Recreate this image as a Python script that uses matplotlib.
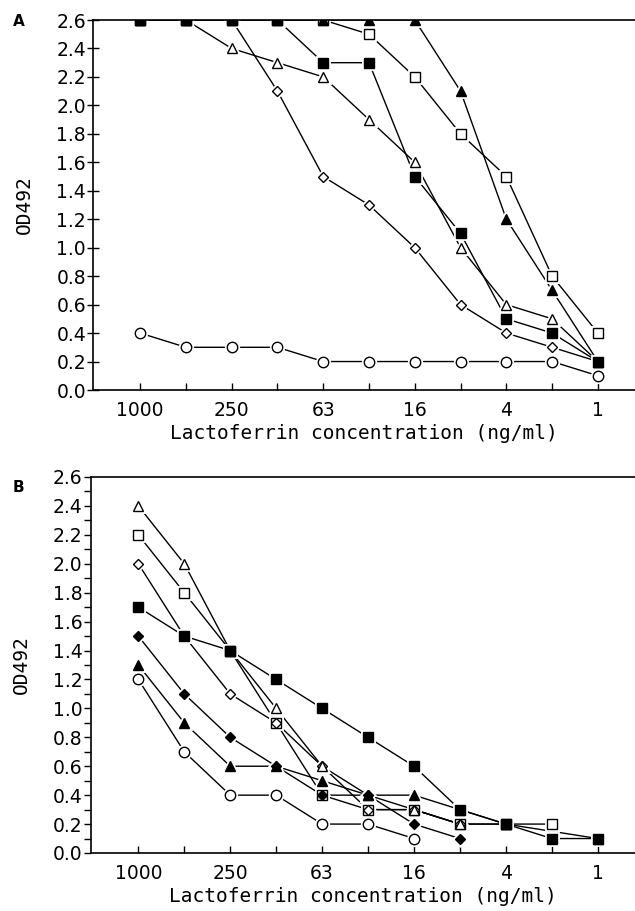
import numpy as np
import matplotlib
matplotlib.use('Agg')
import matplotlib.pyplot as plt
from matplotlib.patches import Rectangle

# lactoferrin dilutions (ng/ml), one position per twofold step
conc = ['1000', '500', '250', '125', '63', '31', '16', '8', '4', '2', '1']
shown = ['1000', '', '250', '', '63', '', '16', '', '4', '', '1']

nan = np.nan

# panel A
a_filled_sq = [2.6, 2.6, 2.6, 2.6, 2.3, 2.3, 1.5, 1.1, 0.5, 0.4, 0.2]
a_open_sq = [2.6, 2.6, 2.6, 2.6, 2.6, 2.5, 2.2, 1.8, 1.5, 0.8, 0.4]
a_filled_tri = [2.6, 2.6, 2.6, 2.6, 2.6, 2.6, 2.6, 2.1, 1.2, 0.7, 0.2]
a_open_tri = [2.6, 2.6, 2.4, 2.3, 2.2, 1.9, 1.6, 1.0, 0.6, 0.5, 0.2]
a_open_dia = [2.6, 2.6, 2.6, 2.1, 1.5, 1.3, 1.0, 0.6, 0.4, 0.3, 0.2]
a_circle = [0.4, 0.3, 0.3, 0.3, 0.2, 0.2, 0.2, 0.2, 0.2, 0.2, 0.1]

# panel B
b_filled_sq = [1.7, 1.5, 1.4, 1.2, 1.0, 0.8, 0.6, 0.3, 0.2, 0.1, 0.1]
b_open_sq = [2.2, 1.8, 1.4, 0.9, 0.4, 0.3, 0.3, 0.2, 0.2, 0.2, nan]
b_open_tri = [2.4, 2.0, 1.4, 1.0, 0.6, 0.4, 0.3, 0.2, 0.2, nan, nan]
b_open_dia = [2.0, 1.5, 1.1, 0.9, 0.6, 0.3, 0.3, 0.2, nan, nan, nan]
b_filled_tri = [1.3, 0.9, 0.6, 0.6, 0.5, 0.4, 0.4, 0.3, 0.2, nan, 0.1]
b_filled_dia = [1.5, 1.1, 0.8, 0.6, 0.4, 0.4, 0.2, 0.1, nan, nan, nan]
b_circle = [1.2, 0.7, 0.4, 0.4, 0.2, 0.2, 0.1, nan, nan, nan, nan]

MONO = 'DejaVu Sans Mono'
x = np.arange(len(conc))


def _series(ax, y, marker, filled, ms=7.5):
    y = np.asarray(y, dtype=float)
    ok = ~np.isnan(y)
    xs, ys = x[ok], y[ok]
    # line, then a white halo so the line stops short of the symbol
    ax.plot(xs, ys, color='black', lw=1.0, zorder=2)
    ax.plot(xs, ys, ls='none', marker=marker, ms=ms, mfc='white',
            mec='white', mew=3.5, zorder=3)
    ax.plot(xs, ys, ls='none', marker=marker, ms=ms,
            mfc='black' if filled else 'white', mec='black', mew=1.0,
            zorder=4)


def _frame(ax, minor):
    ax.set_xlim(-1.03, 10.81)
    ax.set_ylim(0, 2.6)
    ax.spines['right'].set_visible(False)
    for s in ['left', 'top', 'bottom']:
        ax.spines[s].set_linewidth(1.2)
        ax.spines[s].set_zorder(6)
    ax.set_xticks(x)
    ax.set_xticklabels(shown)
    ax.set_yticks(np.arange(0, 2.61, 0.2))
    ax.set_yticklabels([f'{v:.1f}' for v in np.arange(0, 2.61, 0.2)])
    ax.tick_params(axis='x', direction='in', length=5, width=1.0, pad=8,
                   labelsize=13.5)
    if minor:
        ax.set_yticks(np.arange(0.1, 2.6, 0.2), minor=True)
        ax.tick_params(axis='y', which='both', direction='out', length=5,
                       width=1.0, pad=1, labelsize=13.5)
    else:
        ax.tick_params(axis='y', direction='inout', length=8, width=1.0,
                       pad=1, labelsize=13.5)
    ax.set_xlabel('Lactoferrin concentration (ng/ml)', family=MONO,
                  fontsize=14, labelpad=3)
    ax.set_ylabel('OD492', family=MONO, fontsize=14, labelpad=16)


fig = plt.figure(figsize=(6.35, 9.11), dpi=100)
ax_a = fig.add_axes([93 / 635, 1 - 390 / 911, 542 / 635, 370 / 911])
ax_b = fig.add_axes([91 / 635, 1 - 853 / 911, 544 / 635, 376 / 911])

_series(ax_a, a_circle, 'o', False)
_series(ax_a, a_open_dia, 'D', False, ms=5.5)
_series(ax_a, a_open_tri, '^', False)
_series(ax_a, a_open_sq, 's', False)
_series(ax_a, a_filled_tri, '^', True)
_series(ax_a, a_filled_sq, 's', True)
_frame(ax_a, minor=False)

_series(ax_b, b_circle, 'o', False)
_series(ax_b, b_open_sq, 's', False)
_series(ax_b, b_filled_dia, 'D', True, ms=5.5)
_series(ax_b, b_open_dia, 'D', False, ms=5.5)
_series(ax_b, b_open_tri, '^', False)
_series(ax_b, b_filled_tri, '^', True)
_series(ax_b, b_filled_sq, 's', True)
_frame(ax_b, minor=True)

# symbols sitting on the 2.6 ceiling are cut off by the frame
mask = Rectangle((94 / 635, 1 - 19.2 / 911), 541 / 635, 19 / 911,
                 transform=fig.transFigure, facecolor='white',
                 edgecolor='none', zorder=5)
fig.add_artist(mask)

fig.text(13 / 635, 1 - 26 / 911, 'A', fontsize=11, fontweight='bold')
fig.text(13 / 635, 1 - 492 / 911, 'B', fontsize=11, fontweight='bold')

fig.savefig('out.png', dpi=100)
